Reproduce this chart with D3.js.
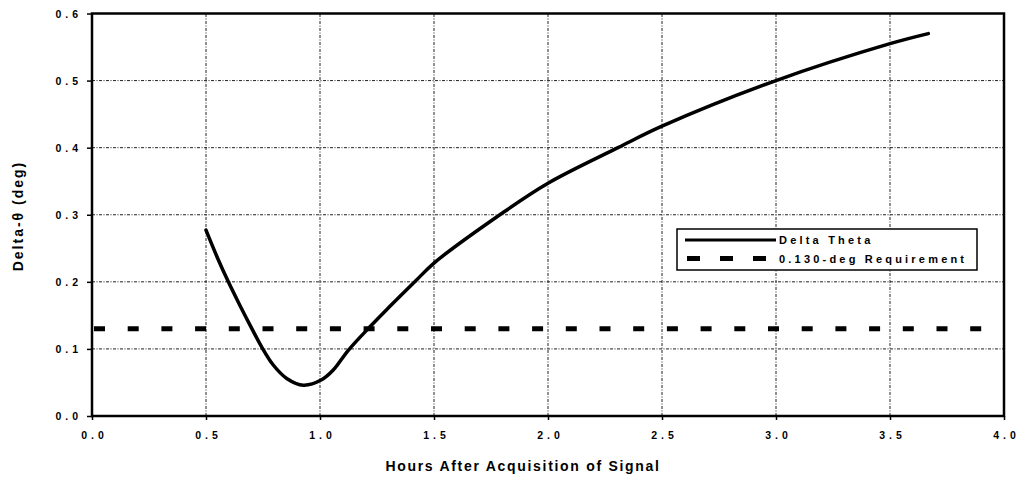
<!DOCTYPE html>
<html><head><meta charset="utf-8">
<script src="https://cdn.jsdelivr.net/npm/d3@7"></script>
<style>
body{margin:0;background:#fff;}
svg{display:block;font-family:"Liberation Sans",Arial,sans-serif;}
</style></head>
<body><svg id="c" width="1021" height="479"></svg>
<script>
const hours = [0.5,0.55,0.598,0.65,0.70,0.744,0.795,0.854,0.927,1.007,1.058,1.124,1.219,1.292,1.351,1.42,1.5,1.789,2.0,2.307,2.5,3.0,3.5,3.668];
const deltaTheta = [0.277,0.236,0.2,0.164,0.131,0.103,0.076,0.056,0.046,0.054,0.0685,0.098,0.133,0.1585,0.1785,0.2015,0.228,0.3,0.347,0.4,0.432,0.50,0.555,0.570];
const requirement = 0.130;
const xTicks = [0,0.5,1.0,1.5,2.0,2.5,3.0,3.5,4.0];
const yTicks = [0,0.1,0.2,0.3,0.4,0.5,0.6];
const legendLabels = ["Delta Theta","0.130-deg Requirement"];

const svg = d3.select("#c");
const x = d3.scaleLinear().domain([0,4]).range([92,1004]);
const y = d3.scaleLinear().domain([0,0.6]).range([416,13.5]);

// grid
const grid = svg.append("g").attr("stroke","#222").attr("stroke-width",1).attr("stroke-dasharray","3,1.5,1,1.5");
grid.selectAll(".gx").data(xTicks.slice(1,-1)).enter().append("line")
  .attr("x1",d=>x(d)).attr("x2",d=>x(d)).attr("y1",y(0)).attr("y2",y(0.6));
grid.selectAll(".gy").data(yTicks.slice(1,-1)).enter().append("line")
  .attr("y1",d=>y(d)).attr("y2",d=>y(d)).attr("x1",x(0)).attr("x2",x(4));

// axes
const LS = 4;
const xAxis = d3.axisBottom(x).tickValues(xTicks).tickFormat(d3.format(".1f")).tickSize(4).tickPadding(12);
const yAxis = d3.axisLeft(y).tickValues(yTicks).tickFormat(d3.format(".1f")).tickSize(5).tickPadding(5);
const gx = svg.append("g").attr("transform",`translate(0,${y(0)})`).call(xAxis);
const gy = svg.append("g").attr("transform",`translate(${x(0)},0)`).call(yAxis);
[gx,gy].forEach(g=>{
  g.select(".domain").remove();
  g.selectAll(".tick line").attr("stroke","#000").attr("stroke-width",1.5);
  g.selectAll(".tick text").attr("fill","#000").style("font-size","10.5px").style("font-weight","bold").style("letter-spacing",LS+"px");
});
gy.selectAll(".tick text").attr("dy","0.35em");
gx.selectAll(".tick text").attr("dx",LS/2);

// frame
svg.append("rect").attr("x",x(0)).attr("y",y(0.6)).attr("width",x(4)-x(0)).attr("height",y(0)-y(0.6))
  .attr("fill","none").attr("stroke","#000").attr("stroke-width",2.5);

// requirement line
svg.append("line").attr("x1",x(0)+2).attr("x2",x(4)).attr("y1",y(requirement)).attr("y2",y(requirement))
  .attr("stroke","#000").attr("stroke-width",5).attr("stroke-dasharray","11,22.7");

// curve
const line = d3.line().x((d,i)=>x(hours[i])).y(d=>y(d)).curve(d3.curveCatmullRom.alpha(0.5));
svg.append("path").datum(deltaTheta).attr("d",line).attr("fill","none").attr("stroke","#000").attr("stroke-width",3.5).attr("stroke-linejoin","round").attr("stroke-linecap","round");

// legend
const lg = svg.append("g");
lg.append("rect").attr("x",677).attr("y",229).attr("width",300).attr("height",41).attr("fill","#fff").attr("stroke","#000").attr("stroke-width",1.5);
lg.append("line").attr("x1",685).attr("x2",776).attr("y1",240).attr("y2",240).attr("stroke","#000").attr("stroke-width",3);
lg.append("line").attr("x1",687).attr("x2",768).attr("y1",258.5).attr("y2",258.5).attr("stroke","#000").attr("stroke-width",5).attr("stroke-dasharray","13,20");
lg.selectAll("text").data(legendLabels).enter().append("text")
  .attr("x",779).attr("y",(d,i)=>i?259:240).attr("dy","0.35em")
  .style("font-size","11px").style("font-weight","bold").style("letter-spacing","3.2px").text(d=>d);

// axis titles
svg.append("text").attr("x",523).attr("y",471).attr("text-anchor","middle")
  .style("font-size","14px").style("font-weight","bold").style("letter-spacing","1.7px").text("Hours After Acquisition of Signal");
svg.append("text").attr("transform",`translate(23,216) rotate(-90)`).attr("text-anchor","middle")
  .style("font-size","14px").style("font-weight","bold").style("letter-spacing","2px").text("Delta-θ (deg)");
</script></body></html>
